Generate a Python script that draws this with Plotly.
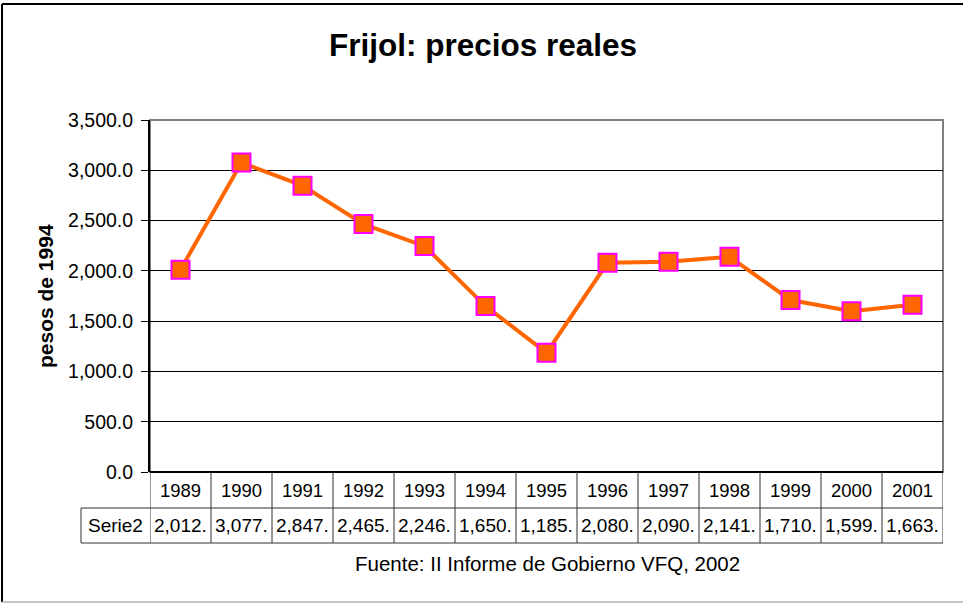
import plotly.graph_objects as go

years = ["1989", "1990", "1991", "1992", "1993", "1994", "1995", "1996",
         "1997", "1998", "1999", "2000", "2001"]
precios = [2012, 3077, 2847, 2465, 2246, 1650, 1185, 2080, 2090, 2141, 1710, 1599, 1663]
table_labels = ["2,012.", "3,077.", "2,847.", "2,465.", "2,246.", "1,650.", "1,185.",
                "2,080.", "2,090.", "2,141.", "1,710.", "1,599.", "1,663."]
series_name = "Serie2"
title_text = "Frijol: precios reales"
y_title = "pesos de 1994"
source_text = "Fuente: II Informe de Gobierno VFQ, 2002"

W, H = 963, 603
FONT = "Liberation Sans, Arial, sans-serif"

def px(x):
    return x / W

def py(y):
    return 1 - y / H

xs = list(range(len(years)))

fig = go.Figure()
fig.add_trace(go.Scatter(
    x=xs, y=precios, mode="lines+markers",
    line=dict(color="#FF6600", width=4),
    marker=dict(symbol="square", size=18, color="#FF6600",
                line=dict(color="#FF00FF", width=2)),
    showlegend=False, cliponaxis=False,
))

shapes = []
# outer chart border: black top and left, gray bottom
shapes.append(dict(type="line", xref="paper", yref="paper",
                   x0=px(2), x1=1, y0=py(4), y1=py(4),
                   line=dict(color="black", width=2)))
shapes.append(dict(type="line", xref="paper", yref="paper",
                   x0=px(2), x1=px(2), y0=py(4), y1=py(602),
                   line=dict(color="black", width=2)))
shapes.append(dict(type="line", xref="paper", yref="paper",
                   x0=px(2), x1=1, y0=py(602), y1=py(602),
                   line=dict(color="#B0B0B0", width=1.5)))
# plot area border (gray)
shapes.append(dict(type="rect", xref="x domain", yref="y domain",
                   x0=0, x1=1, y0=0, y1=1,
                   line=dict(color="#808080", width=2), layer="below"))

# data table
row1_top, row1_bot, row2_bot = 472, 508, 543
n = len(years)
TL = dict(color="#303030", width=1)
for i in range(n + 1):
    xb = i - 0.5
    shapes.append(dict(type="line", xref="x", yref="paper",
                       x0=xb, x1=xb, y0=py(row1_top), y1=py(row2_bot), line=TL))
shapes.append(dict(type="line", xref="paper", yref="paper",
                   x0=px(81), x1=px(81), y0=py(row1_bot), y1=py(row2_bot), line=TL))
for yy in [row1_bot, row2_bot]:
    shapes.append(dict(type="line", xref="paper", yref="paper",
                       x0=px(81), x1=px(150), y0=py(yy), y1=py(yy), line=TL))
    shapes.append(dict(type="line", xref="x", yref="paper",
                       x0=-0.5, x1=n - 0.5, y0=py(yy), y1=py(yy), line=TL))

annotations = []
def ann(x, y, text, size, xref="paper", **kw):
    annotations.append(dict(x=x, y=y, xref=xref, yref="paper", text=text,
                            showarrow=False, xanchor="center", yanchor="middle",
                            font=dict(family=FONT, size=size, color="black"), **kw))

for i, (yr, lab) in enumerate(zip(years, table_labels)):
    ann(i, py((row1_top + row1_bot) / 2), yr, 18.5, xref="x")
    ann(i, py((row1_bot + row2_bot) / 2), lab, 19, xref="x")
ann(px(115.5), py((row1_bot + row2_bot) / 2), series_name, 19)
ann(px(547), py(563), source_text, 20.5)
ann(px(45), py(296), "<b>" + y_title + "</b>", 21, textangle=-90)
ann(px(483), py(45), "<b>" + title_text + "</b>", 31.5)

fig.update_layout(
    width=W, height=H,
    margin=dict(l=0, r=0, t=0, b=0, pad=0, autoexpand=False),
    paper_bgcolor="white", plot_bgcolor="white",
    shapes=shapes, annotations=annotations,
    xaxis=dict(domain=[px(150), px(943)], range=[-0.5, n - 0.5],
               showticklabels=False, showgrid=False, zeroline=False,
               showline=False, fixedrange=True, automargin=False),
    yaxis=dict(domain=[py(472), py(120)], range=[0, 3500], dtick=500,
               tickformat=",.1f", showgrid=True, gridcolor="black", gridwidth=1,
               zeroline=True, zerolinecolor="black", zerolinewidth=1.5,
               showline=True, linecolor="black", linewidth=2,
               ticks="outside", ticklen=7, tickcolor="black",
               ticklabelstandoff=4, automargin=False,
               tickfont=dict(family=FONT, size=19.5, color="black")),
    font=dict(family=FONT),
)

fig.write_html("out.html", config={"displayModeBar": False},
               post_script="document.body.style.margin='0';")
